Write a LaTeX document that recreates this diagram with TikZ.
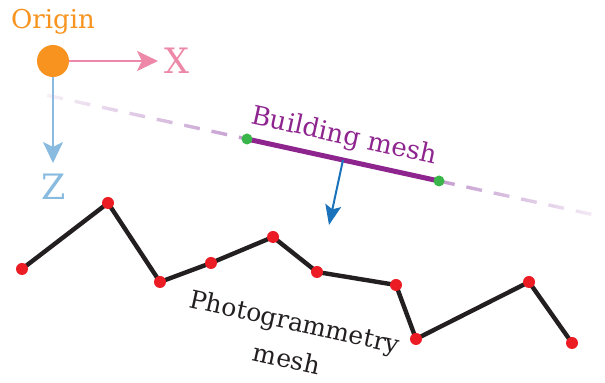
\documentclass[tikz,border=0pt]{standalone}
\usepackage{fontspec}
\setmainfont{DejaVu Serif}
\usetikzlibrary{arrows.meta,fadings,calc}

\definecolor{origcol}{HTML}{F7931E}
\definecolor{xcol}{HTML}{EE88A8}
\definecolor{zcol}{HTML}{88BBDF}
\definecolor{bldcol}{HTML}{8E258F}
\definecolor{dshcol}{HTML}{C49BCF}
\definecolor{nrmcol}{HTML}{1A72BB}
\definecolor{gdotcol}{HTML}{3AB54A}
\definecolor{rdotcol}{HTML}{EC1C24}
\definecolor{meshcol}{HTML}{231F20}

\tikzfading[name=fadein, left color=transparent!85, right color=transparent!0]
\tikzfading[name=fadeout, left color=transparent!0, right color=transparent!85]

\begin{document}
\begin{tikzpicture}[x=0.5pt, y=-0.5pt,
    lbl/.style={font=\fontsize{13}{19}\selectfont, inner sep=0pt},
    axlbl/.style={font=\fontsize{17.5}{20}\selectfont, inner sep=0pt},
    axis/.style={line width=1.3pt, -{Stealth[length=10.5pt, width=10pt, inset=2.5pt]}},
    dsh/.style={draw=dshcol, line width=1.7pt, dash pattern=on 8pt off 6pt},
    gdot/.style={circle, fill=gdotcol, inner sep=0pt, minimum size=5.5pt},
    rdot/.style={circle, fill=rdotcol, inner sep=0pt, minimum size=6pt},
    meshline/.style={draw=meshcol, line width=2.2pt, line join=round}
]
\useasboundingbox (0,0) rectangle (605,383);

% origin and axes
\node[circle, fill=origcol, inner sep=0pt, minimum size=16pt] (origin) at (53,61) {};
\node[lbl, text=origcol] (otxt) at (53,22) {Origin};
\coordinate (xend) at (158,61);
\coordinate (zend) at (53,163);
\draw[axis, draw=xcol] (origin) -- (xend);
\draw[axis, draw=zcol] (origin) -- (zend);
\node[axlbl, text=xcol] (xtxt) at (177,61) {X};
\node[axlbl, text=zcol] (ztxt) at (54,187) {Z};

% building mesh
\coordinate (ba) at (247,139);
\coordinate (bb) at (439,181);
\coordinate (d0) at ($(ba)!-1.04!(bb)$);
\coordinate (d1) at ($(ba)!1.85!(bb)$);
\draw[dsh, path fading=fadein] (d0) -- (ba);
\draw[dsh, path fading=fadeout] (bb) -- (d1);
\draw[draw=bldcol, line width=2.5pt] (ba) -- (bb);
\node[gdot] (ga) at (ba) {};
\node[gdot] (gb) at (bb) {};
\coordinate (bm) at ($(ga)!0.5!(gb)$);
\coordinate (nend) at (329,225);
\draw[draw=nrmcol, line width=1pt, -{Stealth[length=10pt, width=8pt, inset=2pt]}] (bm) -- (nend);
\node[lbl, text=bldcol, rotate=-12.4] (btxt) at (344,137) {Building mesh};

% photogrammetry mesh
\foreach \n/\px/\py in {1/22/269, 2/108/203, 3/160/282, 4/211/263, 5/273/237,
                        6/317/272, 7/396/285, 8/416/339, 9/529/282, 10/572/343}
    \coordinate (p\n) at (\px,\py);
\draw[meshline] (p1) -- (p2) -- (p3) -- (p4) -- (p5) -- (p6) -- (p7) -- (p8) -- (p9) -- (p10);
\foreach \n in {1,...,10}
    \node[rdot] (r\n) at (p\n) {};
\node[lbl, font=\fontsize{12.5}{19}\selectfont, text=meshcol, align=center, rotate=-12.5] (ptxt) at (291,340) {Photogrammetry\\mesh};
\end{tikzpicture}
\end{document}
